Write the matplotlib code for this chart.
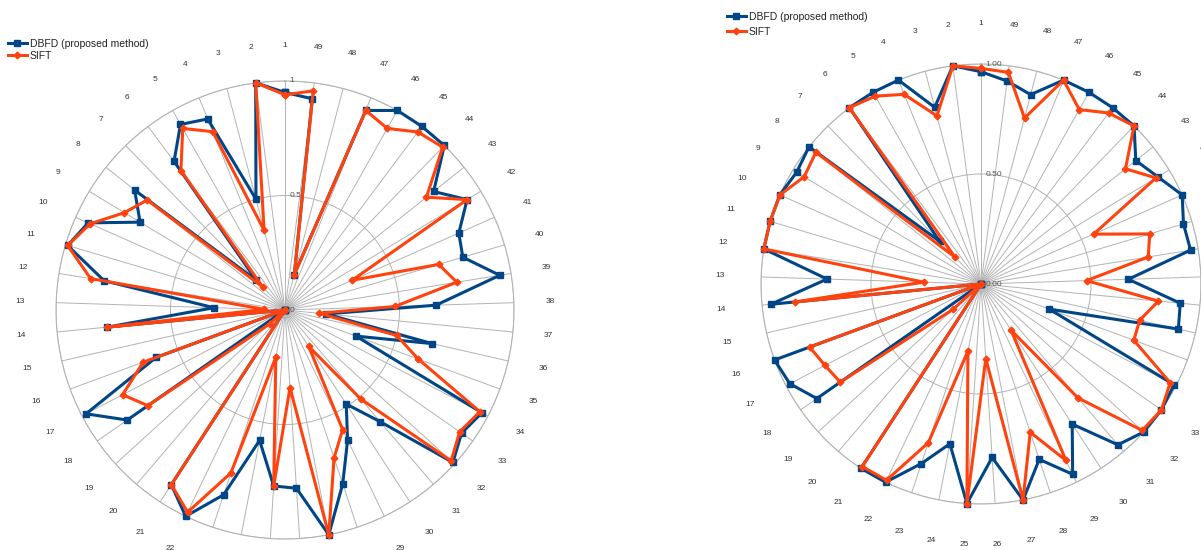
import numpy as np
import matplotlib
matplotlib.use('Agg')
import matplotlib.pyplot as plt
from matplotlib.lines import Line2D

categories = [str(i) for i in range(1, 50)]

left_dbfd = [0.95, 1.00, 0.50, 0.90, 0.93, 0.81, 0.18, 0.84, 0.74, 0.94,
             0.99, 0.80, 0.31, 0.78, 0.00, 0.60, 0.98, 0.84, 0.00, 0.00,
             0.91, 1.00, 0.85, 0.58, 0.77, 0.78, 1.00, 0.80, 0.63, 0.49,
             0.64, 0.99, 0.94, 0.97, 0.33, 0.66, 0.18, 0.66, 0.95, 0.81,
             0.83, 0.93, 0.83, 1.00, 1.00, 1.00, 0.94, 0.16, 0.93]
left_sift = [0.94, 1.00, 0.36, 0.84, 0.91, 0.76, 0.14, 0.77, 0.82, 0.93,
             0.99, 0.86, 0.09, 0.78, 0.00, 0.66, 0.80, 0.73, 0.09, 0.00,
             0.91, 0.98, 0.75, 0.21, 0.77, 0.34, 1.00, 0.68, 0.58, 0.19,
             0.51, 0.98, 0.93, 0.96, 0.62, 0.50, 0.15, 0.48, 0.76, 0.70,
             0.32, 0.93, 0.79, 0.99, 0.97, 0.91, 0.94, 0.16, 0.965]
right_dbfd = [0.965, 1.00, 0.83, 1.00, 1.00, 1.00, 0.27, 1.00, 0.98, 1.00,
              1.00, 1.00, 0.70, 0.96, 0.00, 1.00, 0.98, 0.91, 0.00, 0.00,
              1.00, 1.00, 0.86, 0.74, 1.00, 0.79, 1.00, 0.84, 0.96, 0.76,
              0.96, 1.00, 1.00, 0.99, 0.33, 0.92, 0.91, 0.67, 0.965, 0.96,
              1.00, 0.94, 0.90, 1.00, 1.00, 1.00, 1.00, 0.89, 0.93]
right_sift = [0.98, 1.00, 0.79, 0.93, 0.98, 1.00, 0.17, 0.96, 0.94, 1.00,
              1.00, 1.00, 0.26, 0.85, 0.00, 0.83, 0.80, 0.78, 0.17, 0.00,
              0.99, 0.99, 0.76, 0.31, 1.00, 0.34, 1.00, 0.71, 0.89, 0.25,
              0.68, 0.99, 1.00, 0.97, 0.74, 0.74, 0.81, 0.48, 0.77, 0.80,
              0.56, 0.93, 0.84, 1.00, 0.97, 0.91, 1.00, 0.78, 0.97]

series_names = ['DBFD (proposed method)', 'SIFT']
tick_values = [0.0, 0.5, 1.0]
left_ticklabels = ['0', '0.5', '1']
right_ticklabels = ['0.00', '0.50', '1.00']

BLUE = '#004586'
ORANGE = '#ff420e'
GRID = '#b3b3b3'

plt.rcParams['font.family'] = ['Liberation Sans', 'DejaVu Sans']

fig = plt.figure(figsize=(12.01, 5.5), dpi=100)


def radar(rect, dbfd, sift, ticklabels, label_r):
    ax = fig.add_axes(rect, projection='polar')
    ax.set_facecolor('none')
    ax.set_theta_zero_location('N')
    ax.set_theta_direction(1)
    n = len(categories)
    theta = np.arange(n) * 2 * np.pi / n
    ax.set_xticks(theta)
    ax.set_xticklabels([])
    ax.set_yticks([0.5, 1.0])
    ax.set_yticklabels([])
    ax.set_ylim(0, 1)
    ax.grid(True, color=GRID, linewidth=0.7)
    ax.spines['polar'].set_color(GRID)
    ax.spines['polar'].set_linewidth(0.8)
    ax.tick_params(length=0)
    th = np.append(theta, theta[0])
    ax.plot(th, list(dbfd) + [dbfd[0]], color=BLUE, lw=2.2, marker='s',
            ms=5, clip_on=False, zorder=3)
    ax.plot(th, list(sift) + [sift[0]], color=ORANGE, lw=2.2, marker='D',
            ms=3.4, clip_on=False, zorder=4)
    for t, lab in zip(theta, categories):
        ax.text(t, label_r, lab, ha='center', va='center', fontsize=6,
                color='#333333', clip_on=False)
    for v, lab in zip(tick_values, ticklabels):
        ax.annotate(lab, xy=(0, v), xytext=(3, 0), textcoords='offset points',
                    ha='left', va='center', fontsize=6, color='#555555',
                    annotation_clip=False, zorder=5)
    return ax


W, H = 1201.0, 550.0
# left chart: centre (285,310) px, radius 229 px
radar([(285 - 229) / W, (H - 310 - 229) / H, 458 / W, 458 / H],
      left_dbfd, left_sift, left_ticklabels, 1.157)
# right chart: centre (981,284) px, radius 220 px
radar([(981 - 220) / W, (H - 284 - 220) / H, 440 / W, 440 / H],
      right_dbfd, right_sift, right_ticklabels, 1.186)

h1 = Line2D([], [], color=BLUE, lw=2.2, marker='s', ms=5)
h2 = Line2D([], [], color=ORANGE, lw=2.2, marker='D', ms=3.4)
fig.legend([h1, h2], series_names, loc='upper left',
           bbox_to_anchor=(8 / W, 1 - 39 / H), frameon=False, fontsize=7.5,
           handlelength=1.8, handletextpad=0.3, labelspacing=0.15,
           borderpad=0, borderaxespad=0, labelcolor='#222222')
fig.legend([h1, h2], series_names, loc='upper left',
           bbox_to_anchor=(727 / W, 1 - 12 / H), frameon=False, fontsize=7.5,
           handlelength=1.8, handletextpad=0.3, labelspacing=0.45,
           borderpad=0, borderaxespad=0, labelcolor='#222222')

fig.savefig('out.png', dpi=100)
